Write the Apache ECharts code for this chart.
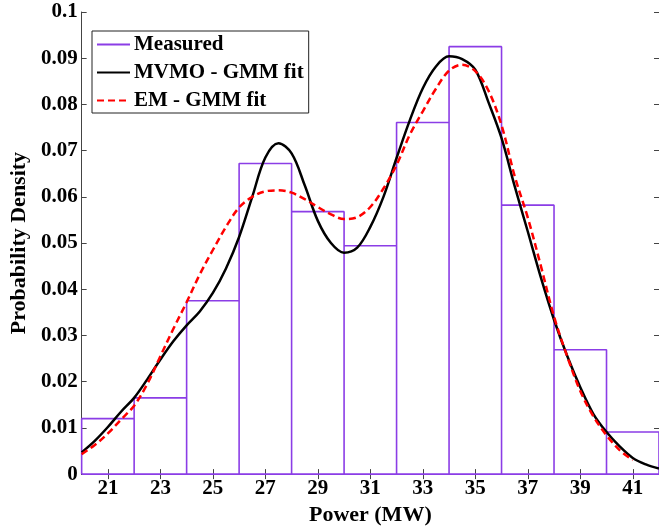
<!DOCTYPE html>
<html>
<head>
<meta charset="utf-8">
<script src="https://cdn.jsdelivr.net/npm/echarts@6/dist/echarts.min.js"></script>
<style>
  html, body { margin: 0; padding: 0; background: #fff; }
  #chart { width: 659px; height: 531px; }
</style>
</head>
<body>
<div id="chart"></div>
<script>
// ---- data ----
const binEdges = [20, 22, 24, 26, 28, 30, 32, 34, 36, 38, 40, 42];
const measured = [0.0120, 0.0165, 0.0375, 0.0672, 0.0568, 0.0494, 0.0761, 0.0925, 0.0582, 0.0269, 0.0091];

const fitX = [20, 20.5, 21, 21.5, 22, 22.5, 23, 23.5, 24, 24.5, 25, 25.5, 26, 26.5, 27, 27.5, 28, 28.5, 29, 29.5,
              30, 30.5, 31, 31.5, 32, 32.5, 33, 33.5, 34, 34.5, 35, 35.5, 36, 36.5, 37, 37.5, 38, 38.5, 39, 39.5,
              40, 40.5, 41, 41.5, 42];
const mvmoFit = [0.0047, 0.0072, 0.0102, 0.0135, 0.0165, 0.0205, 0.0248, 0.0288, 0.0322, 0.0352, 0.0392, 0.0445,
                 0.0513, 0.0600, 0.0685, 0.0716, 0.0694, 0.0625, 0.0548, 0.0500, 0.0479, 0.0490, 0.0535, 0.0600,
                 0.0684, 0.0765, 0.0835, 0.0882, 0.0904, 0.0898, 0.0875, 0.0805, 0.0727, 0.0623, 0.0525, 0.0425,
                 0.0334, 0.0256, 0.0188, 0.0130, 0.0091, 0.0060, 0.0035, 0.0021, 0.0012];
const emX = [20, 20.5, 21, 21.5, 22, 22.5, 23, 23.5, 24, 24.5, 25, 25.5, 26, 26.5, 27, 27.5, 28, 28.5, 29, 29.5,
             30, 30.5, 31, 31.5, 32, 32.5, 33, 33.5, 34, 34.5, 35, 35.5, 36, 36.5, 37, 37.5, 38, 38.5, 39, 39.5,
             40, 40.5, 41];
const emFit = [0.0043, 0.0063, 0.0088, 0.0118, 0.0148, 0.0195, 0.0255, 0.0315, 0.0372, 0.0432, 0.0485, 0.0535,
               0.0577, 0.0600, 0.0612, 0.0614, 0.0609, 0.0595, 0.0578, 0.0562, 0.0552, 0.0556, 0.0578, 0.0618,
               0.0669, 0.0734, 0.0785, 0.0834, 0.0873, 0.0886, 0.0872, 0.0830, 0.0755, 0.0645, 0.0555, 0.0450,
               0.0341, 0.0255, 0.0180, 0.0125, 0.0084, 0.0052, 0.0030];

const xTickLabels = [21, 23, 25, 27, 29, 31, 33, 35, 37, 39, 41];
const seriesNames = ['Measured', 'MVMO - GMM fit', 'EM - GMM fit'];
const xTitle = 'Power (MW)';
const yTitle = 'Probability Density';

// ---- build ----
const histOutline = [[binEdges[0], 0]];
for (let i = 0; i < measured.length; i++) {
  histOutline.push([binEdges[i], measured[i]]);
  histOutline.push([binEdges[i + 1], measured[i]]);
  histOutline.push([binEdges[i + 1], 0]);
}
histOutline.push([binEdges[0], 0]);

const mvmoData = fitX.map((x, i) => [x, mvmoFit[i]]);
const emData = emX.map((x, i) => [x, emFit[i]]);

const FONT = "'Liberation Serif', 'Times New Roman', serif";
const AX = '#444';
const PURPLE = '#8b3de6';

const chart = echarts.init(document.getElementById('chart'), null, { renderer: 'canvas' });
chart.setOption({
  animation: false,
  backgroundColor: '#fff',
  grid: { left: 78, top: 12, width: 585, height: 467 },
  legend: {
    orient: 'vertical',
    left: 92, top: 31,
    data: seriesNames,
    backgroundColor: '#fff',
    borderColor: '#222', borderWidth: 1,
    padding: [3, 5, 2, 4],
    itemWidth: 33, itemHeight: 14, itemGap: 7,
    itemStyle: { color: 'transparent', borderWidth: 0, opacity: 0 },
    textStyle: { fontFamily: FONT, fontWeight: 'bold', fontSize: 21, color: '#000', lineHeight: 21, padding: [0, 0, 0, -1] }
  },
  xAxis: [{
    type: 'value', min: 20, max: 42,
    name: xTitle, nameLocation: 'middle', nameGap: 27,
    nameTextStyle: { fontFamily: FONT, fontWeight: 'bold', fontSize: 22, color: '#000' },
    axisLine: { show: true, lineStyle: { color: AX, width: 1 } },
    axisTick: { show: true, inside: true, length: 5, customValues: xTickLabels, lineStyle: { color: AX } },
    axisLabel: { show: true, customValues: xTickLabels, margin: 4, fontFamily: FONT, fontWeight: 'bold', fontSize: 21, color: '#000' },
    splitLine: { show: false }
  }, {
    type: 'value', min: 20, max: 42, position: 'top',
    axisLine: { show: true, lineStyle: { color: AX, width: 1 } },
    axisTick: { show: true, inside: true, length: 5, customValues: xTickLabels, lineStyle: { color: AX } },
    axisLabel: { show: false },
    splitLine: { show: false }
  }],
  yAxis: [{
    type: 'value', min: 0, max: 0.1, interval: 0.01,
    name: yTitle, nameLocation: 'middle', nameGap: 46, nameRotate: 90,
    nameTextStyle: { fontFamily: FONT, fontWeight: 'bold', fontSize: 22, color: '#000' },
    axisLine: { show: true, lineStyle: { color: AX, width: 1 } },
    axisTick: { show: true, inside: true, length: 5, lineStyle: { color: AX } },
    axisLabel: { margin: 4, fontFamily: FONT, fontWeight: 'bold', fontSize: 21, color: '#000' },
    splitLine: { show: false }
  }, {
    type: 'value', min: 0, max: 0.1, interval: 0.01, position: 'right',
    axisLine: { show: true, lineStyle: { color: AX, width: 1 } },
    axisTick: { show: true, inside: true, length: 5, lineStyle: { color: AX } },
    axisLabel: { show: false },
    splitLine: { show: false }
  }],
  series: [{
    name: seriesNames[0], type: 'line', data: histOutline,
    showSymbol: false, symbol: 'none',
    lineStyle: { color: PURPLE, width: 1.6 }, itemStyle: { color: PURPLE },
    z: 2
  }, {
    name: seriesNames[1], type: 'line', data: mvmoData, smooth: 0.35,
    showSymbol: false, symbol: 'none',
    lineStyle: { color: '#000', width: 2.5 }, itemStyle: { color: '#000' },
    z: 3
  }, {
    name: seriesNames[2], type: 'line', data: emData, smooth: 0.35,
    showSymbol: false, symbol: 'none',
    lineStyle: { color: '#ff0000', width: 2.5, type: [7, 4] }, itemStyle: { color: '#ff0000' },
    z: 4
  }]
});
</script>
</body>
</html>
